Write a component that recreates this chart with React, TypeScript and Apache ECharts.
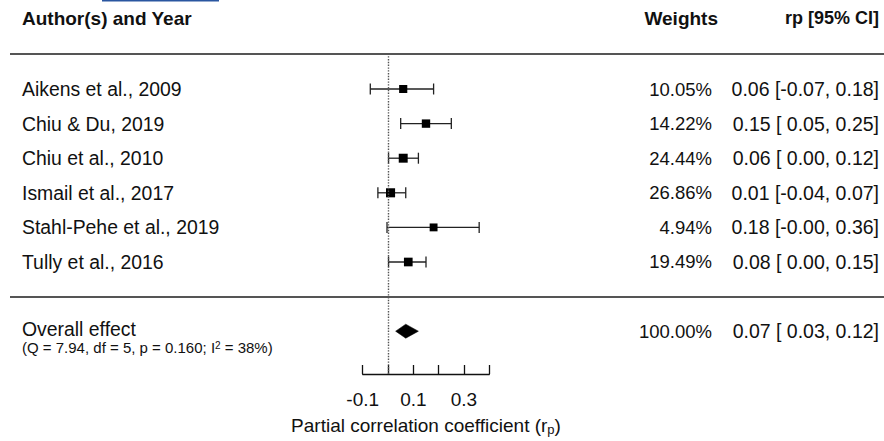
import React, { useEffect, useRef } from "react";
import * as echarts from "echarts";

const studies = [
  "Aikens et al., 2009",
  "Chiu & Du, 2019",
  "Chiu et al., 2010",
  "Ismail et al., 2017",
  "Stahl-Pehe et al., 2019",
  "Tully et al., 2016",
];
const estimates = [0.06, 0.15, 0.06, 0.01, 0.18, 0.08];
const lowers = [-0.07, 0.05, 0.002, -0.04, -0.004, 0.002];
const uppers = [0.18, 0.25, 0.12, 0.07, 0.36, 0.15];
const weights = [10.05, 14.22, 24.44, 26.86, 4.94, 19.49];
const rows = [8, 7, 6, 5, 4, 3];

const overallLabel = "Overall effect";
const overallStats = ["(Q = 7.94, df = 5, p = 0.160; I", "2", " = 38%)"];
const overallEstimate = [0.07];
const overallLower = [0.03];
const overallUpper = [0.12];
const overallWeight = [100];
const overallRow = [1];

const tickLabels = [-0.1, 0.1, 0.3];
const headers = ["Author(s) and Year", "Weights", "rp [95% CI]"];

const FONT = '"Liberation Sans", Arial, Helvetica, sans-serif';
const fmtLow = (v: number) => {
  const s = v.toFixed(2);
  return s.startsWith("-") ? s : " " + s;
};

export default function App() {
  const ref = useRef<HTMLDivElement>(null);
  useEffect(() => {
    if (!ref.current) return;
    const chart = echarts.init(ref.current, null, { renderer: "svg" });

    const barData = studies.map((_, i) => [estimates[i], lowers[i], uppers[i], rows[i], weights[i]]);
    const labelData = studies.map((_, i) => [0, rows[i], i]);

    const option: any = {
      animation: false,
      backgroundColor: "#ffffff",
      textStyle: { fontFamily: FONT },
      grid: { left: 362.7, right: 394.7, top: 54.4, bottom: 67, outerBoundsMode: "none", containLabel: false },
      xAxis: {
        type: "value",
        min: -0.1,
        max: 0.4,
        interval: 0.1,
        splitLine: { show: false },
        axisLine: { show: true, onZero: false, lineStyle: { color: "#111", width: 1.3 } },
        axisTick: { show: true, inside: true, length: 9, lineStyle: { color: "#111", width: 1.3 } },
        axisLabel: {
          fontFamily: FONT,
          fontSize: 19,
          color: "#111",
          margin: 16,
          showMinLabel: true,
          showMaxLabel: true,
          formatter: (v: number) =>
            tickLabels.some((t) => Math.abs(t - v) < 1e-9) ? v.toFixed(1) : "",
        },
        name: "{a|Partial correlation coefficient (r}{s|p}{a|)}",
        nameLocation: "middle",
        nameGap: 40,
        nameMoveOverlap: false,
        nameTextStyle: {
          rich: {
            a: { fontFamily: FONT, fontSize: 19, color: "#111", lineHeight: 22 },
            s: { fontFamily: FONT, fontSize: 13, color: "#111", lineHeight: 10, verticalAlign: "bottom" },
          },
        },
      },
      yAxis: { type: "value", min: -0.237, max: 9, show: false },
      graphic: [
        { type: "rect", shape: { x: 102, y: 0, width: 117, height: 1.5 }, style: { fill: "#2a56a0" } },
        {
          type: "text",
          x: 22,
          y: 18,
          style: { text: headers[0], font: `bold 19px ${FONT}`, fill: "#111", align: "left", verticalAlign: "middle" },
        },
        {
          type: "text",
          x: 718,
          y: 18,
          style: { text: headers[1], font: `bold 19px ${FONT}`, fill: "#111", align: "right", verticalAlign: "middle" },
        },
        {
          type: "text",
          x: 879,
          y: 18,
          style: { text: headers[2], font: `bold 18px ${FONT}`, fill: "#111", align: "right", verticalAlign: "middle" },
        },
        { type: "line", shape: { x1: 10, y1: 54, x2: 884, y2: 54 }, style: { stroke: "#555", lineWidth: 2 } },
        { type: "line", shape: { x1: 10, y1: 297, x2: 884, y2: 297 }, style: { stroke: "#555", lineWidth: 2 } },
      ],
      series: [
        {
          type: "custom",
          name: "studies",
          data: barData,
          encode: { x: [0, 1, 2], y: 3 },
          renderItem: (params: any, api: any) => {
            const y = api.coord([0, api.value(3)])[1];
            const xe = api.coord([api.value(0), 0])[0];
            const xl = api.coord([api.value(1), 0])[0];
            const xh = api.coord([api.value(2), 0])[0];
            const s = 7.6 + api.value(4) * 0.055;
            const cap = 5.5;
            const ls = { stroke: "#222", lineWidth: 1.3 };
            return {
              type: "group",
              children: [
                { type: "line", shape: { x1: xl, y1: y, x2: xh, y2: y }, style: ls },
                { type: "line", shape: { x1: xl, y1: y - cap, x2: xl, y2: y + cap }, style: ls },
                { type: "line", shape: { x1: xh, y1: y - cap, x2: xh, y2: y + cap }, style: ls },
                { type: "rect", shape: { x: xe - s / 2, y: y - s / 2, width: s, height: s }, style: { fill: "#000" } },
              ],
            };
          },
          markLine: {
            silent: true,
            symbol: "none",
            label: { show: false },
            lineStyle: { type: "dotted", color: "#555", width: 1.4 },
            data: [{ xAxis: 0 }],
          },
          z: 3,
        },
        {
          type: "custom",
          name: "overall",
          data: overallEstimate.map((e, i) => [e, overallLower[i], overallUpper[i], overallRow[i]]),
          encode: { x: [0, 1, 2], y: 3 },
          renderItem: (params: any, api: any) => {
            const y = api.coord([0, api.value(3)])[1];
            const xe = api.coord([api.value(0), 0])[0];
            const xl = api.coord([api.value(1), 0])[0];
            const xh = api.coord([api.value(2), 0])[0];
            const h = 7;
            return {
              type: "polygon",
              shape: { points: [[xl, y], [xe, y - h], [xh, y], [xe, y + h]] },
              style: { fill: "#000", stroke: "#000", lineWidth: 0.5 },
            };
          },
          z: 3,
        },
        {
          type: "custom",
          name: "labels",
          data: labelData,
          encode: { x: 0, y: 1 },
          clip: false,
          silent: true,
          renderItem: (params: any, api: any) => {
            const i = api.value(2);
            const y = api.coord([0, api.value(1)])[1];
            const base = { fontFamily: FONT, fontSize: 19.4, fill: "#111", verticalAlign: "middle" };
            return {
              type: "group",
              children: [
                { type: "text", x: 22, y, style: { ...base, text: studies[i], align: "left" } },
                { type: "text", x: 712, y, style: { ...base, fontSize: 18.5, text: `${weights[i].toFixed(2)}%`, align: "right" } },
                {
                  type: "text",
                  x: 879,
                  y,
                  style: {
                    ...base,
                    fontSize: 19.5,
                    text: `${estimates[i].toFixed(2)} [${fmtLow(lowers[i])}, ${uppers[i].toFixed(2)}]`,
                    align: "right",
                  },
                },
              ],
            };
          },
        },
        {
          type: "custom",
          name: "overallLabels",
          data: overallRow.map((r, i) => [0, r, i]),
          encode: { x: 0, y: 1 },
          clip: false,
          silent: true,
          renderItem: (params: any, api: any) => {
            const i = api.value(2);
            const y = api.coord([0, api.value(1)])[1];
            const base = { fontFamily: FONT, fontSize: 19.4, fill: "#111", verticalAlign: "middle" };
            return {
              type: "group",
              children: [
                { type: "text", x: 22, y: y - 2.5, style: { ...base, lineHeight: 18, text: overallLabel, align: "left" } },
                {
                  type: "text",
                  x: 22,
                  y: y + 16,
                  style: {
                    text: `{a|${overallStats[0]}}{b|${overallStats[1]}}{a|${overallStats[2]}}`,
                    align: "left",
                    verticalAlign: "middle",
                    rich: {
                      a: { fontFamily: FONT, fontSize: 15, fill: "#111", lineHeight: 13 },
                      b: { fontFamily: FONT, fontSize: 10, fill: "#111", lineHeight: 8, verticalAlign: "top" },
                    },
                  },
                },
                { type: "text", x: 712, y, style: { ...base, fontSize: 18.5, text: `${overallWeight[i].toFixed(2)}%`, align: "right" } },
                {
                  type: "text",
                  x: 879,
                  y,
                  style: {
                    ...base,
                    fontSize: 19.5,
                    text: `${overallEstimate[i].toFixed(2)} [${fmtLow(overallLower[i])}, ${overallUpper[i].toFixed(2)}]`,
                    align: "right",
                  },
                },
              ],
            };
          },
        },
      ],
    };
    chart.setOption(option);
    return () => chart.dispose();
  }, []);
  return <div ref={ref} style={{ position: "fixed", left: 0, top: 0, width: 884, height: 441 }} />;
}
